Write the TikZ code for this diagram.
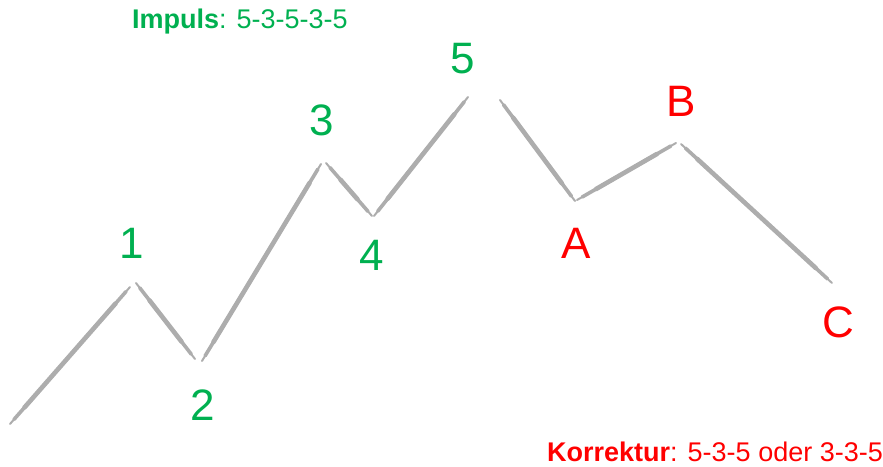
\documentclass[tikz,border=0pt]{standalone}
\usepackage{fontspec}
\setmainfont{Liberation Sans}
\definecolor{ewgreen}{HTML}{00B050}
\definecolor{ewred}{HTML}{FF0000}
\definecolor{ewgray}{HTML}{ADADAD}
\tikzset{
  wavelabel/.style={inner sep=0pt, font=\fontsize{44}{48}\selectfont},
  implabel/.style={wavelabel, text=ewgreen},
  corlabel/.style={wavelabel, text=ewred},
  caption/.style={inner sep=0pt, font=\fontsize{27}{30}\selectfont},
  thinstroke/.style={draw=ewgray, line width=2pt, line cap=round},
  midstroke/.style={draw=ewgray, line width=3.6pt, line cap=round, shorten <=6pt, shorten >=6pt},
  fatstroke/.style={draw=ewgray, line width=4.6pt, line cap=round, shorten <=22pt, shorten >=22pt},
}
\newcommand\wavestroke[2]{%
  \draw[thinstroke] (#1) -- (#2);
  \draw[midstroke] (#1) -- (#2);
  \draw[fatstroke] (#1) -- (#2);
}
\begin{document}
\begin{tikzpicture}[x=1pt,y=-1pt]
\useasboundingbox (0,0) rectangle (883,466);
% wave vertices
\coordinate (s0) at (10,424);
\coordinate (p1a) at (130,287);
\coordinate (p1b) at (136,283);
\coordinate (p2a) at (195,359);
\coordinate (p2b) at (202,361);
\coordinate (p3a) at (321,164);
\coordinate (p3b) at (326,163);
\coordinate (p4a) at (372,216);
\coordinate (p4b) at (374,216);
\coordinate (p5a) at (468,97);
\coordinate (p5b) at (500,100);
\coordinate (pAa) at (575,201);
\coordinate (pAb) at (577,200);
\coordinate (pBa) at (676,143);
\coordinate (pBb) at (681,144);
\coordinate (pC) at (832,283);
% strokes
\wavestroke{s0}{p1a}
\wavestroke{p1b}{p2a}
\wavestroke{p2b}{p3a}
\wavestroke{p3b}{p4a}
\wavestroke{p4b}{p5a}
\wavestroke{p5b}{pAa}
\wavestroke{pAb}{pBa}
\wavestroke{pBb}{pC}
% labels
\node[implabel] (l1) at (132,243) {1};
\node[implabel] (l2) at (203,405) {2};
\node[implabel] (l3) at (322,120) {3};
\node[implabel] (l4) at (372,255) {4};
\node[implabel] (l5) at (463,59) {5};
\node[corlabel] (lA) at (576,243) {A};
\node[corlabel] (lB) at (681,101) {B};
\node[corlabel] (lC) at (838,322) {C};
% captions
\node[caption, anchor=west, text=ewgreen] (imp) at (132,22) {\textbf{Impuls}: 5-3-5-3-5};
\node[caption, anchor=west, text=ewred] (kor) at (547,452) {\textbf{Korrektur}: 5-3-5 oder 3-3-5};
\end{tikzpicture}
\end{document}
